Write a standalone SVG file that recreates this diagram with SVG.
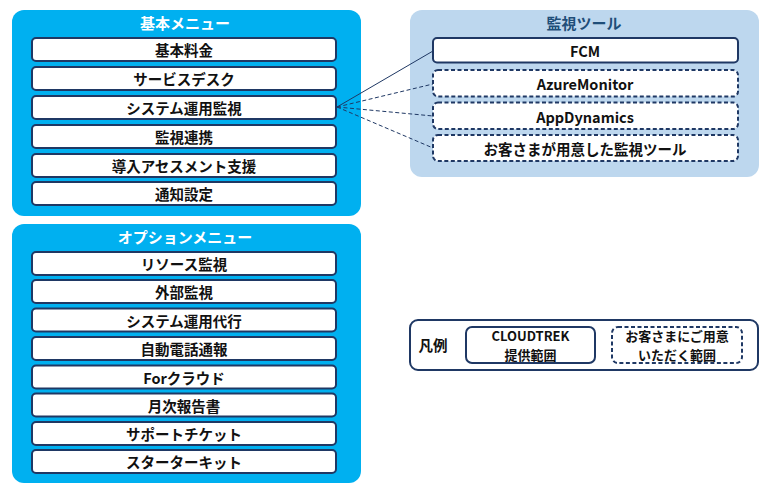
<svg xmlns="http://www.w3.org/2000/svg" width="774" height="492" viewBox="0 0 774 492">
<defs>
<style>
text{font-family:"Noto Sans CJK JP","Noto Sans",sans-serif;font-weight:bold;text-anchor:middle;dominant-baseline:central}
.panel{fill:#00b0f0}
.tpanel{fill:#bdd7ee}
.title{fill:#ffffff;font-size:15px}
.ttitle{fill:#1f4e79;font-size:15px}
.item{fill:#ffffff;stroke:#1f3864;stroke-width:2}
.dash{stroke-dasharray:4 2.5}
.it{fill:#111111;font-size:14.5px}
.lg{fill:#111111;font-size:13px}
.conn{stroke:#1f3864;stroke-width:1;fill:none}
</style>
</defs>
<g id="basic-menu">
<rect class="panel" x="12" y="10" width="349" height="206" rx="12"/>
<text class="title" x="185" y="22">基本メニュー</text>
</g>
<g id="basic-1"><rect class="item" x="32" y="38" width="304" height="23" rx="4"/><text class="it" x="184" y="49.5">基本料金</text></g>
<g id="basic-2"><rect class="item" x="32" y="67" width="304" height="23" rx="4"/><text class="it" x="184" y="78.5">サービスデスク</text></g>
<g id="basic-3"><rect class="item" x="32" y="96" width="304" height="23" rx="4"/><text class="it" x="184" y="107.5">システム運用監視</text></g>
<g id="basic-4"><rect class="item" x="32" y="125" width="304" height="23" rx="4"/><text class="it" x="184" y="136.5">監視連携</text></g>
<g id="basic-5"><rect class="item" x="32" y="154" width="304" height="23" rx="4"/><text class="it" x="184" y="165.5">導入アセスメント支援</text></g>
<g id="basic-6"><rect class="item" x="32" y="182" width="304" height="23" rx="4"/><text class="it" x="184" y="193.5">通知設定</text></g>

<g id="option-menu">
<rect class="panel" x="12" y="224" width="349" height="259" rx="12"/>
<text class="title" x="185" y="236">オプションメニュー</text>
</g>
<g id="opt-1"><rect class="item" x="32" y="252" width="304" height="23" rx="4"/><text class="it" x="184" y="263.5">リソース監視</text></g>
<g id="opt-2"><rect class="item" x="32" y="280" width="304" height="23" rx="4"/><text class="it" x="184" y="291.5">外部監視</text></g>
<g id="opt-3"><rect class="item" x="32" y="308.5" width="304" height="23" rx="4"/><text class="it" x="184" y="320">システム運用代行</text></g>
<g id="opt-4"><rect class="item" x="32" y="337" width="304" height="23" rx="4"/><text class="it" x="184" y="348.5">自動電話通報</text></g>
<g id="opt-5"><rect class="item" x="32" y="365.5" width="304" height="23" rx="4"/><text class="it" x="184" y="377">Forクラウド</text></g>
<g id="opt-6"><rect class="item" x="32" y="393.5" width="304" height="23" rx="4"/><text class="it" x="184" y="405">月次報告書</text></g>
<g id="opt-7"><rect class="item" x="32" y="422" width="304" height="23" rx="4"/><text class="it" x="184" y="433.5">サポートチケット</text></g>
<g id="opt-8"><rect class="item" x="32" y="450" width="304" height="23" rx="4"/><text class="it" x="184" y="461.5">スターターキット</text></g>

<g id="monitoring-tools">
<rect class="tpanel" x="410" y="10" width="349" height="167" rx="12"/>
<text class="ttitle" x="584" y="22">監視ツール</text>
</g>
<g id="tool-fcm"><rect class="item" x="433" y="38" width="305" height="24.5" rx="4"/><text class="it" x="585" y="50.5">FCM</text></g>
<g id="tool-azure"><rect class="item dash" x="433" y="70" width="305" height="26.5" rx="5"/><text class="it" x="585" y="83">AzureMonitor</text></g>
<g id="tool-appd"><rect class="item dash" x="433" y="102.5" width="305" height="26.5" rx="5"/><text class="it" x="585" y="116">AppDynamics</text></g>
<g id="tool-customer"><rect class="item dash" x="433" y="135" width="305" height="26" rx="5"/><text class="it" x="585" y="148">お客さまが用意した監視ツール</text></g>

<g id="connectors">
<line class="conn" x1="337" y1="107" x2="433" y2="51"/>
<line class="conn dash" x1="337" y1="107" x2="433" y2="84"/>
<line class="conn dash" x1="337" y1="107" x2="433" y2="116"/>
<line class="conn dash" x1="337" y1="107" x2="433" y2="148"/>
</g>

<g id="legend">
<rect x="410" y="320" width="348" height="50" rx="8" fill="#ffffff" stroke="#1f3864" stroke-width="2"/>
<text class="it" x="433" y="344">凡例</text>
</g>
<g id="legend-cloudtrek"><rect class="item" x="466" y="327" width="129" height="36" rx="6"/><text class="lg" x="530.5" y="335.5">CLOUDTREK</text><text class="lg" x="530.5" y="354.5">提供範囲</text></g>
<g id="legend-customer"><rect class="item dash" x="612" y="327" width="130" height="36" rx="6"/><text class="lg" x="677" y="335.5">お客さまにご用意</text><text class="lg" x="677" y="354.5">いただく範囲</text></g>
</svg>
